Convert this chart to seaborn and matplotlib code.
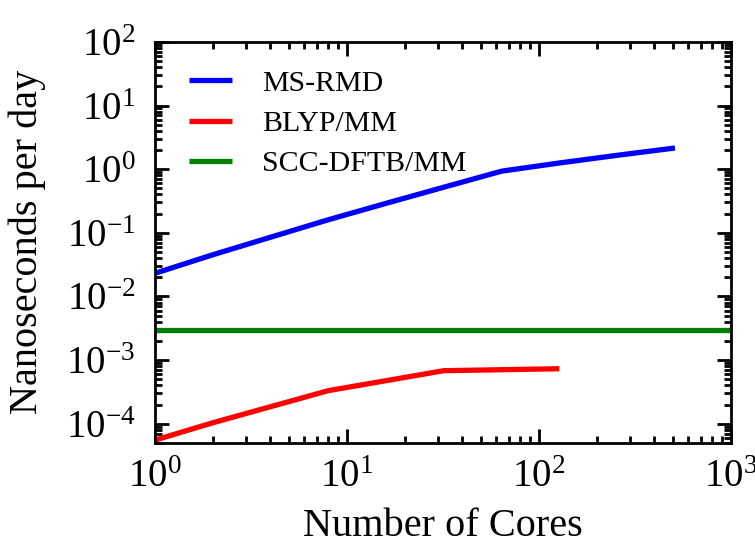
import matplotlib
matplotlib.use("Agg")
import matplotlib.pyplot as plt
import matplotlib.ticker as mticker
import numpy as np
import pandas as pd
import seaborn as sns

# data
cores_rmd = [1, 2, 4, 8, 16, 32, 64, 128, 256, 512]
ms_rmd = [0.023, 0.045, 0.085, 0.16, 0.29, 0.52, 0.93, 1.25, 1.65, 2.15]

cores_blyp = [1, 2, 8, 32, 128]
blyp_mm = [5.5e-5, 1.03e-4, 3.3e-4, 6.8e-4, 7.3e-4]

cores_dftb = [1, 1000]
scc_dftb_mm = [2.95e-3, 2.95e-3]

sns.set_style("ticks")
plt.rcParams['font.family'] = ['Liberation Serif', 'DejaVu Serif']
plt.rcParams['mathtext.fontset'] = 'custom'
plt.rcParams['mathtext.rm'] = 'Liberation Serif'
plt.rcParams['mathtext.it'] = 'Liberation Serif:italic'
plt.rcParams['axes.unicode_minus'] = False
for k in ['text.color', 'axes.labelcolor', 'xtick.color', 'ytick.color', 'axes.edgecolor']:
    plt.rcParams[k] = 'black'

fig = plt.figure(figsize=(7.55, 5.44), dpi=100)
ax = fig.add_axes([0.205, 0.186, 0.763, 0.737])

series = [
    ("MS-RMD", cores_rmd, ms_rmd, "#0000ff"),
    ("BLYP/MM", cores_blyp, blyp_mm, "#ff0000"),
    ("SCC-DFTB/MM", cores_dftb, scc_dftb_mm, "#008000"),
]
for name, x, y, c in series:
    df = pd.DataFrame({"cores": x, "nsday": y})
    sns.lineplot(data=df, x="cores", y="nsday", ax=ax, color=c, lw=3.8,
                 label=name, solid_capstyle="butt")

ax.set_xscale("log")
ax.set_yscale("log")
ax.set_xlim(1, 1000)
ax.set_ylim(5e-5, 100)

ax.yaxis.set_major_locator(mticker.LogLocator(base=10, numticks=20))
ax.yaxis.set_minor_locator(mticker.LogLocator(base=10, subs=np.arange(2, 10), numticks=20))
ax.yaxis.set_minor_formatter(mticker.NullFormatter())

ax.tick_params(which="both", direction="in", top=True, right=True, width=2)
ax.tick_params(which="major", length=10, labelsize=28)
ax.tick_params(axis="x", which="major", pad=12)
ax.tick_params(axis="y", which="major", pad=14)
ax.tick_params(which="minor", length=5)
for s in ax.spines.values():
    s.set_linewidth(2)

ax.set_xlabel("Number of Cores", fontsize=29, labelpad=8)
ax.set_ylabel("Nanoseconds per day", fontsize=29, labelpad=14)

ax.legend(loc="upper left", frameon=False, fontsize=21.5, handlelength=1.45,
          handletextpad=1.0, labelspacing=0.45, borderaxespad=0.0,
          bbox_to_anchor=(0.038, 0.96))

fig.savefig("out.png", dpi=100)
